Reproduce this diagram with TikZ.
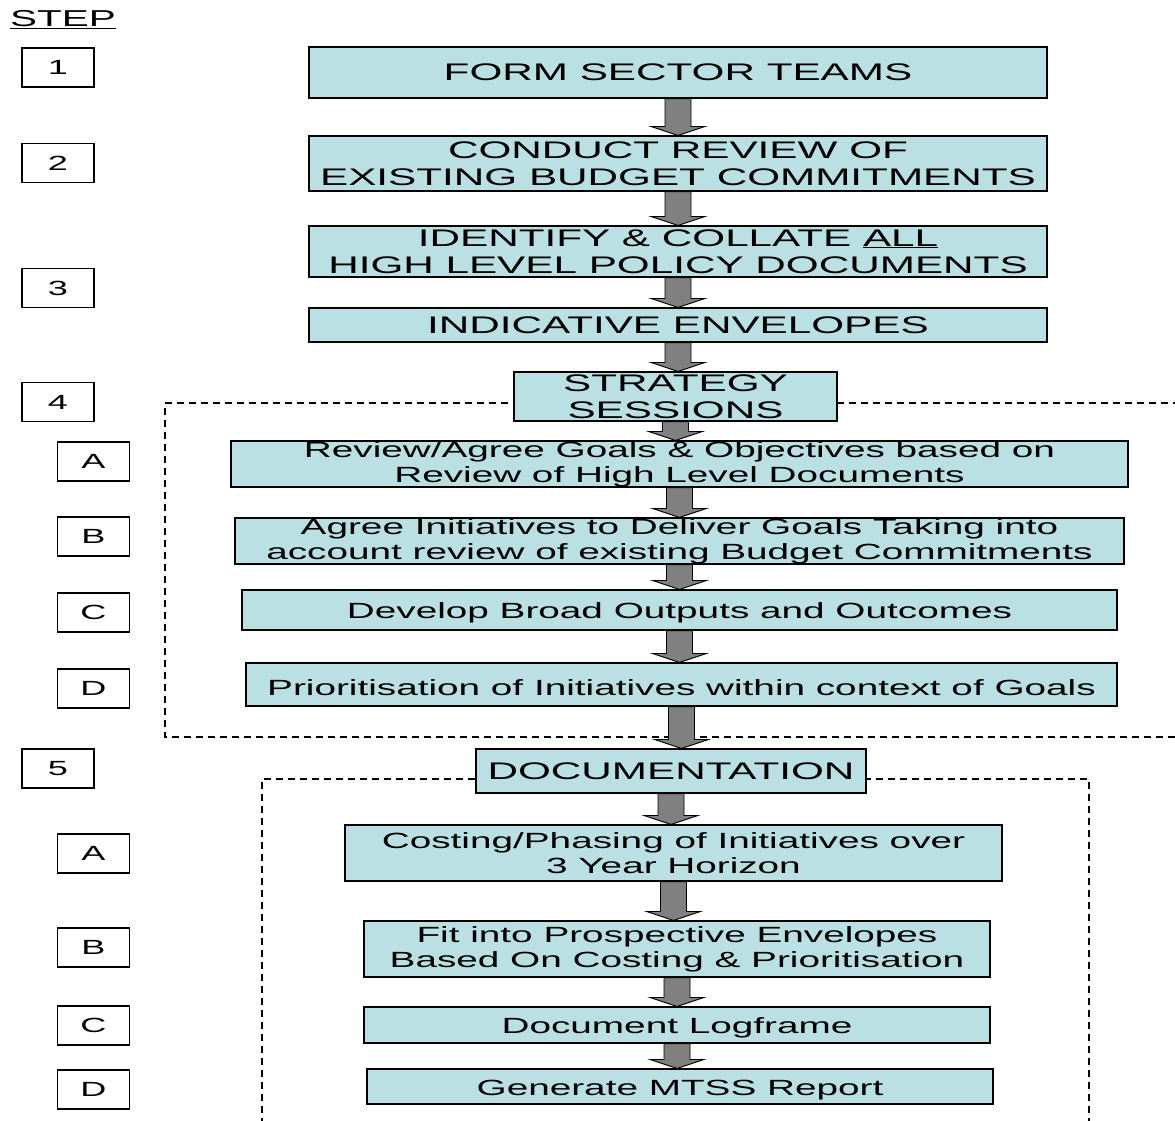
\documentclass[tikz,border=0pt]{standalone}
\usepackage{fontspec}
\setmainfont{Liberation Sans}[FakeStretch=1.76]
\usepackage{xcolor}
\usepackage{tikz}
\usetikzlibrary{calc}

\definecolor{boxblue}{RGB}{187,224,227}
\definecolor{arrowgray}{RGB}{128,128,128}

\newcommand\flowarrow[2]{%
  \draw[arrowbody] let \p1=(#1.south), \p2=(#2.north) in
    (\x1-13pt,\y1) -- (\x1+13pt,\y1) -- (\x1+13pt,\y2+9pt) -- (\x1+27pt,\y2+9pt)
    -- (\x1,\y2) -- (\x1-27pt,\y2+9pt) -- (\x1-13pt,\y2+9pt) -- cycle;}

\begin{document}
\begin{tikzpicture}[x=1pt,y=-1pt,
  flowbox/.style={draw,line width=1.1pt,fill=boxblue,inner sep=0pt,align=center},
  capsbox/.style={flowbox,font=\fontsize{24}{27}\selectfont},
  textbox/.style={flowbox,font=\fontsize{22}{25}\selectfont},
  linebox/.style={textbox,text height=22.5pt},
  stepbox/.style={draw,line width=1.3pt,inner sep=0pt,minimum width=72pt,minimum height=39pt,font=\fontsize{20.5}{24}\selectfont},
  frame/.style={line width=1.2pt,dash pattern=on 7pt off 5pt},
  arrowbody/.style={draw,line width=0.9pt,fill=arrowgray}]
\useasboundingbox (0,0) rectangle (1175,1120);

\draw[frame] (1180,403) -- (165,403) -- (165,737) -- (1180,737);
\draw[frame] (262,1125) -- (262,779) -- (1089,779) -- (1089,1125);

\node (step) at (63,20) {\fontsize{23}{26}\selectfont\underline{STEP}};
\node[stepbox] (s1) at (58,67.5) {1};
\node[stepbox] (s2) at (58,163) {2};
\node[stepbox] (s3) at (58,288) {3};
\node[stepbox] (s4) at (58,402) {4};
\node[stepbox] (s4a) at (93.5,461.5) {A};
\node[stepbox] (s4b) at (93.5,536.5) {B};
\node[stepbox] (s4c) at (93.5,612.5) {C};
\node[stepbox] (s4d) at (93.5,688.5) {D};
\node[stepbox] (s5) at (58,768.5) {5};
\node[stepbox] (s5a) at (93.5,853.5) {A};
\node[stepbox] (s5b) at (93.5,947.5) {B};
\node[stepbox] (s5c) at (93.5,1025.5) {C};
\node[stepbox] (s5d) at (93.5,1089.5) {D};

\node[capsbox,minimum width=738pt,minimum height=51pt] (1) at (678,72.5) {FORM SECTOR TEAMS};
\node[capsbox,minimum width=738pt,minimum height=55pt] (2) at (678,163.5) {CONDUCT REVIEW OF\\EXISTING BUDGET COMMITMENTS};
\node[capsbox,minimum width=738pt,minimum height=51pt] (3) at (678,251.5) {IDENTIFY \& COLLATE \underline{ALL}\\HIGH LEVEL POLICY DOCUMENTS};
\node[capsbox,minimum width=738pt,minimum height=34pt] (4) at (678,325) {INDICATIVE ENVELOPES};
\node[capsbox,minimum width=323pt,minimum height=49pt] (5) at (675.5,396.5) {STRATEGY\\SESSIONS};
\node[textbox,minimum width=897pt,minimum height=46pt] (6) at (679.5,464) {Review/Agree Goals \& Objectives based on\\Review of High Level Documents};
\node[textbox,minimum width=889pt,minimum height=46pt] (7) at (679.5,541) {Agree Initiatives to Deliver Goals Taking into\\account review of existing Budget Commitments};
\node[linebox,minimum width=875pt,minimum height=40pt] (8) at (679.5,610) {Develop Broad Outputs and Outcomes};
\node[linebox,minimum width=871pt,minimum height=43pt] (9) at (681.5,684.5) {Prioritisation of Initiatives within context of Goals};
\node[capsbox,minimum width=390pt,minimum height=44pt] (10) at (671,771) {DOCUMENTATION};
\node[textbox,minimum width=657pt,minimum height=56pt] (11) at (673.5,853) {Costing/Phasing of Initiatives over\\3 Year Horizon};
\node[textbox,minimum width=626pt,minimum height=56pt] (12) at (677,949) {Fit into Prospective Envelopes\\Based On Costing \& Prioritisation};
\node[linebox,minimum width=626pt,minimum height=36pt] (13) at (677,1025) {Document Logframe};
\node[linebox,minimum width=626pt,minimum height=35pt] (14) at (680,1086.5) {Generate MTSS Report};

\flowarrow{1}{2}
\flowarrow{2}{3}
\flowarrow{3}{4}
\flowarrow{4}{5}
\flowarrow{5}{6}
\flowarrow{6}{7}
\flowarrow{7}{8}
\flowarrow{8}{9}
\flowarrow{9}{10}
\flowarrow{10}{11}
\flowarrow{11}{12}
\flowarrow{12}{13}
\flowarrow{13}{14}
\end{tikzpicture}
\end{document}
